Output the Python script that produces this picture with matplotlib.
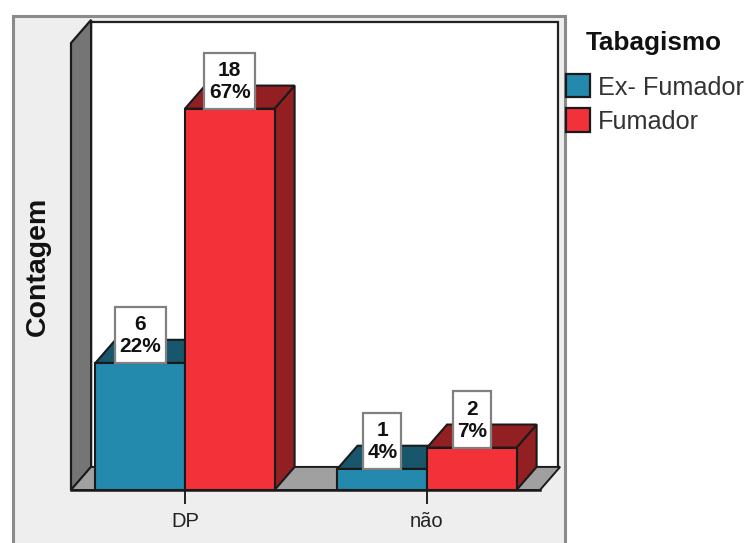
import matplotlib
matplotlib.use("Agg")
import matplotlib.pyplot as plt
from matplotlib.patches import Polygon, Rectangle

plt.rcParams["font.family"] = ["Liberation Sans", "DejaVu Sans"]

categories = ["DP", "não"]
series_names = ["Ex- Fumador", "Fumador"]
ex_fumador = [6, 1]
fumador = [18, 2]
ex_pct = ["22%", "4%"]
fum_pct = ["67%", "7%"]

BLUE = "#2389AD"
BLUE_DARK = "#18566B"
RED = "#F23139"
RED_DARK = "#921F22"
EDGE = "#1a1a1a"

# depth of the fake 3d, in data units
DX = 0.083
DY = 1.09
BAR_W = 0.37

W, H = 747, 543
fig = plt.figure(figsize=(W / 100, H / 100), dpi=100, facecolor="white")

# ----------------------------
# pixel layer: panel and legend
# ----------------------------
bg = fig.add_axes([0, 0, 1, 1])
bg.set_xlim(0, W)
bg.set_ylim(H, 0)
bg.axis("off")
bg.add_patch(Rectangle((12.5, 16), 552, 540, fc="#EEEEEE", ec="#8a8a8a", lw=2.2))
bg.add_patch(Rectangle((91, 22), 467, 446, fc="white", ec="#222222", lw=1.6))

bg.text(586, 43, "Tabagismo", fontsize=18.8, fontweight="bold", va="center", color="#111111")
bg.add_patch(Rectangle((566, 73.5), 24, 23.5, fc=BLUE, ec=EDGE, lw=1.6))
bg.add_patch(Rectangle((566, 107.5), 24, 24, fc=RED, ec=EDGE, lw=1.6))
bg.text(598, 88, series_names[0], fontsize=18.2, va="center", color="#333333")
bg.text(598, 122, series_names[1], fontsize=18.2, va="center", color="#333333")

# ----------------------------
# chart axes
# ----------------------------
ax = fig.add_axes([71 / W, (H - 490) / H, (540 - 71) / W, (490 - 43) / H])
ax.patch.set_alpha(0)
x_lo, x_hi = -0.471, 1.467
y_hi = 21.1
ax.set_xlim(x_lo, x_hi)
ax.set_ylim(0, y_hi)

# side wall and floor
ax.add_patch(Polygon([(x_lo, 0), (x_lo + DX, DY), (x_lo + DX, y_hi + DY), (x_lo, y_hi)],
                     fc="#757575", ec=EDGE, lw=1.6, clip_on=False))
ax.add_patch(Polygon([(x_lo, 0), (x_hi, 0), (x_hi + DX, DY), (x_lo + DX, DY)],
                     fc="#A0A0A0", ec=EDGE, lw=1.4, clip_on=False))


def bar3d(x0, val, face, dark):
    x1 = x0 + BAR_W
    ax.add_patch(Polygon([(x1, 0), (x1 + DX, DY), (x1 + DX, val + DY), (x1, val)],
                         fc=dark, ec=EDGE, lw=1.5, clip_on=False, zorder=3))
    ax.add_patch(Polygon([(x0, val), (x1, val), (x1 + DX, val + DY), (x0 + DX, val + DY)],
                         fc=dark, ec=EDGE, lw=1.5, clip_on=False, zorder=3))
    ax.add_patch(Rectangle((x0, 0), BAR_W, val, fc=face, ec=EDGE, lw=1.5, clip_on=False, zorder=3))


def label_box(xc, val, count, pct):
    w = 0.21 if len(pct) > 2 else 0.157
    ax.add_patch(Rectangle((xc - w / 2, val), w, 2.65, fc="white", ec="#808080", lw=1.6,
                           clip_on=False, zorder=5))
    ax.text(xc, val + 1.3, f"{count}\n{pct}", ha="center", va="center", fontsize=15,
            fontweight="bold", color="#111111", linespacing=1.2, zorder=6)


for i in range(len(categories)):
    bar3d(i - BAR_W, ex_fumador[i], BLUE, BLUE_DARK)
for i in range(len(categories)):
    bar3d(i, fumador[i], RED, RED_DARK)
for i in range(len(categories)):
    label_box(i - BAR_W / 2, ex_fumador[i], ex_fumador[i], ex_pct[i])
    label_box(i + BAR_W / 2, fumador[i], fumador[i], fum_pct[i])

ax.set_xticks(range(len(categories)))
ax.set_xticklabels(categories, fontsize=14.5, color="#222222")
ax.tick_params(axis="x", length=10, width=1.4, color="#222222", pad=6)
ax.set_yticks([])
for side in ["top", "left", "right"]:
    ax.spines[side].set_visible(False)
ax.spines["bottom"].set_linewidth(1.8)
ax.spines["bottom"].set_color(EDGE)
ax.spines["bottom"].set_zorder(4)

ax.set_ylabel("Contagem", fontsize=20.5, fontweight="bold", color="#111111")
ax.yaxis.set_label_coords(-0.043, 0.5)

fig.savefig("out.png", dpi=100)
